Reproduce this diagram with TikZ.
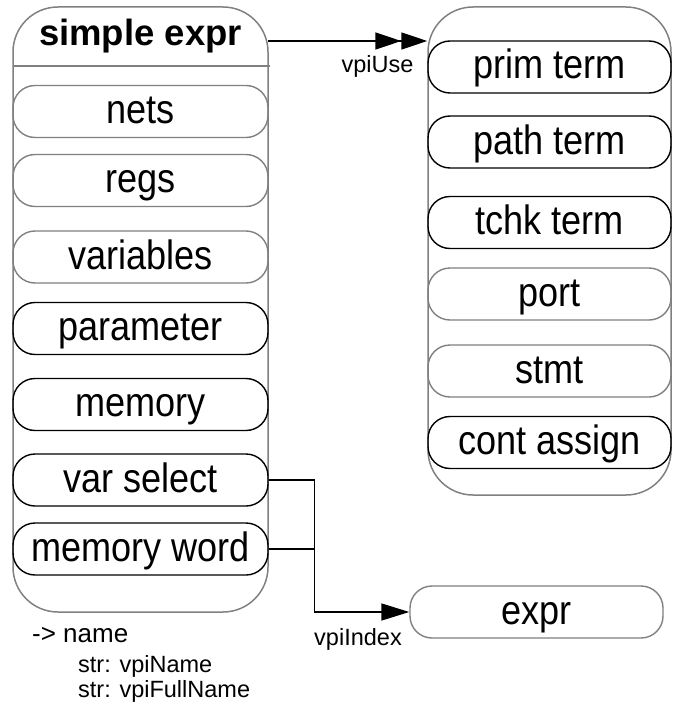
\documentclass[tikz,border=0pt]{standalone}
\usepackage{fontspec}
\setmainfont{Liberation Sans}
\newfontfamily\labelfont[FakeStretch=0.88]{Liberation Sans}
\usetikzlibrary{arrows.meta,positioning}

\definecolor{edgegray}{HTML}{808080}

\begin{document}
\begin{tikzpicture}[
  x=1pt, y=-1pt,
  group/.style={draw=edgegray, line width=1.5pt, rounded corners=45pt, inner sep=0pt},
  item/.style={draw, line width=1.4pt, rounded corners=22pt, minimum height=52pt, inner sep=0pt,
    text height=30pt, text depth=6pt, font=\labelfont\fontsize{41}{41}\selectfont},
  faint/.style={item, draw=edgegray},
  tag/.style={font=\fontsize{23.5}{23.5}\selectfont, inner sep=0pt},
  arrow/.style={line width=1.5pt, -{Triangle[length=28pt,width=17pt]}}
]
\useasboundingbox (0,0) rectangle (673,706);

% left group
\node[group, minimum width=255pt, minimum height=605pt] (lgroup) at (140.5,309.5) {};
\node[anchor=base, inner sep=0pt, font=\bfseries\fontsize{36.5}{36.5}\selectfont] (title) at (140.5,46) {simple expr};
\coordinate (headl) at (13,66);
\draw[edgegray, line width=1.5pt] (headl) -- ++(257,0);

\node[faint, minimum width=255pt] (nets) at (140.5,111.5) {nets};
\node[faint, minimum width=255pt] (regs) at (140.5,180.5) {regs};
\node[faint, minimum width=255pt] (vars) at (140.5,257) {variables};
\node[item, minimum width=255pt] (param) at (140.5,328.5) {parameter};
\node[item, minimum width=255pt] (mem) at (140.5,404.5) {memory};
\node[item, minimum width=255pt] (varsel) at (140.5,480) {var select};
\node[item, minimum width=255pt] (memword) at (140.5,549) {memory word};

% right group
\node[group, minimum width=243pt, minimum height=488pt] (rgroup) at (549.5,251) {};
\node[item, minimum width=243pt] (prim) at (549.5,67) {prim term};
\node[item, minimum width=243pt] (path) at (549.5,142) {path term};
\node[item, minimum width=243pt] (tchk) at (549.5,222.5) {tchk term};
\node[faint, minimum width=243pt] (port) at (549.5,294) {port};
\node[faint, minimum width=243pt] (stmt) at (549.5,371) {stmt};
\node[item, minimum width=243pt] (cont) at (549.5,442.5) {cont assign};

\node[faint, minimum width=253pt] (expr) at (536.5,612) {expr};

% vpiUse
\coordinate (usetap) at (268,41);
\draw[line width=1.5pt, -{Triangle[length=26pt,width=17pt]Triangle[length=26pt,width=17pt]}]
  (usetap) -- (rgroup.west |- usetap);
\node[tag] (uselbl) at (377.5,66) {vpiUse};

% vpiIndex
\draw[arrow] (varsel.east) -- ++(46,0) |- (expr.west);
\draw[line width=1.5pt] (memword.east) -- ++(46,0);
\node[tag] (idxlbl) at (358,639) {vpiIndex};

% properties
\node[anchor=base west, inner sep=0pt, font=\fontsize{26}{26}\selectfont] (name) at (32,642) {-> name};
\node[tag, anchor=base west] (sname) at (78,672) {str: vpiName};
\node[tag, anchor=base west] (sfull) at (78,697) {str: vpiFullName};
\end{tikzpicture}
\end{document}
